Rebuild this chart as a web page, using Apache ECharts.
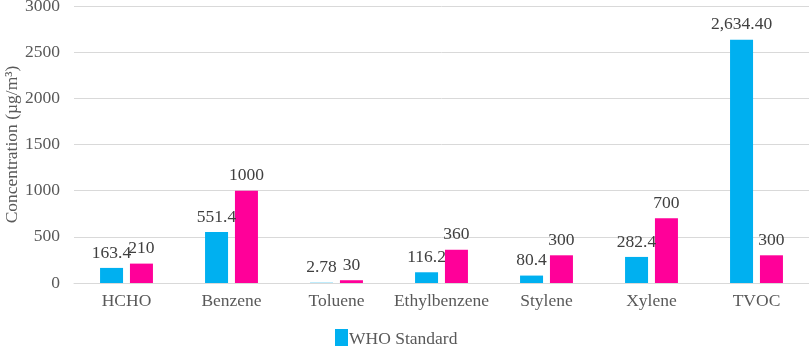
<!DOCTYPE html>
<html>
<head>
<meta charset="utf-8">
<script src="https://cdn.jsdelivr.net/npm/echarts@6/dist/echarts.min.js"></script>
<style>
    html, body { margin: 0; padding: 0; background: #fff; }
    #chart { width: 809px; height: 346px; }
</style>
</head>
<body>
<div id="chart"></div>
<script>
const categories = ["HCHO", "Benzene", "Toluene", "Ethylbenzene", "Stylene", "Xylene", "TVOC"];
const whoValues = [163.4, 551.4, 2.78, 116.2, 80.4, 282.4, 2634.4];
const otherValues = [210, 1000, 30, 360, 300, 700, 300];
const yTicks = [0, 500, 1000, 1500, 2000, 2500, 3000];

const font = "Liberation Serif, Times New Roman, serif";

const chart = echarts.init(document.getElementById("chart"));
chart.setOption({
    animation: false,
    textStyle: { fontFamily: font },
    grid: { left: 74, right: 0, top: 6, bottom: 63, containLabel: false, outerBoundsMode: "none" },
    legend: {
        data: ["WHO Standard"],
        left: 330,
        top: 324,
        itemWidth: 13,
        itemHeight: 20,
        itemGap: 20,
        icon: "rect",
        textStyle: { fontFamily: font, fontSize: 17.5, color: "#595959", padding: [0, 0, 0, -4] },
    },
    xAxis: {
        type: "category",
        data: categories,
        axisLine: { show: true, lineStyle: { color: "#d9d9d9", width: 1 } },
        axisTick: { show: false },
        axisLabel: { interval: 0, fontFamily: font, fontSize: 17.5, color: "#595959", margin: 9 },
    },
    yAxis: {
        type: "value",
        min: yTicks[0],
        max: yTicks[yTicks.length - 1],
        interval: 500,
        name: "Concentration (µg/m³)",
        nameLocation: "middle",
        nameGap: 53,
        nameMoveOverlap: false,
        nameTextStyle: { fontFamily: font, fontSize: 17.5, color: "#595959" },
        axisLine: { show: false },
        axisTick: { show: false },
        axisLabel: { fontFamily: font, fontSize: 17.5, color: "#595959", margin: 14, formatter: (v) => String(v) },
        splitLine: { lineStyle: { color: "#d9d9d9", width: 1 } },
    },
    series: [
        {
            name: "WHO Standard",
            type: "bar",
            data: whoValues,
            barWidth: 23,
            barGap: "30%",
            itemStyle: { color: "#00b0f0" },
            label: {
                show: true,
                position: "top",
                distance: 6,
                fontFamily: font,
                fontSize: 17.5,
                color: "#404040",
                formatter: (p) => (p.value >= 1000 ? p.value.toLocaleString("en-US", { minimumFractionDigits: 2, maximumFractionDigits: 2 }) : String(p.value)),
            },
        },
        {
            name: "Measured",
            type: "bar",
            data: otherValues,
            barWidth: 23,
            barGap: "30%",
            itemStyle: { color: "#ff0099" },
            label: {
                show: true,
                position: "top",
                distance: 6,
                fontFamily: font,
                fontSize: 17.5,
                color: "#404040",
            },
        },
    ],
});
</script>
</body>
</html>
